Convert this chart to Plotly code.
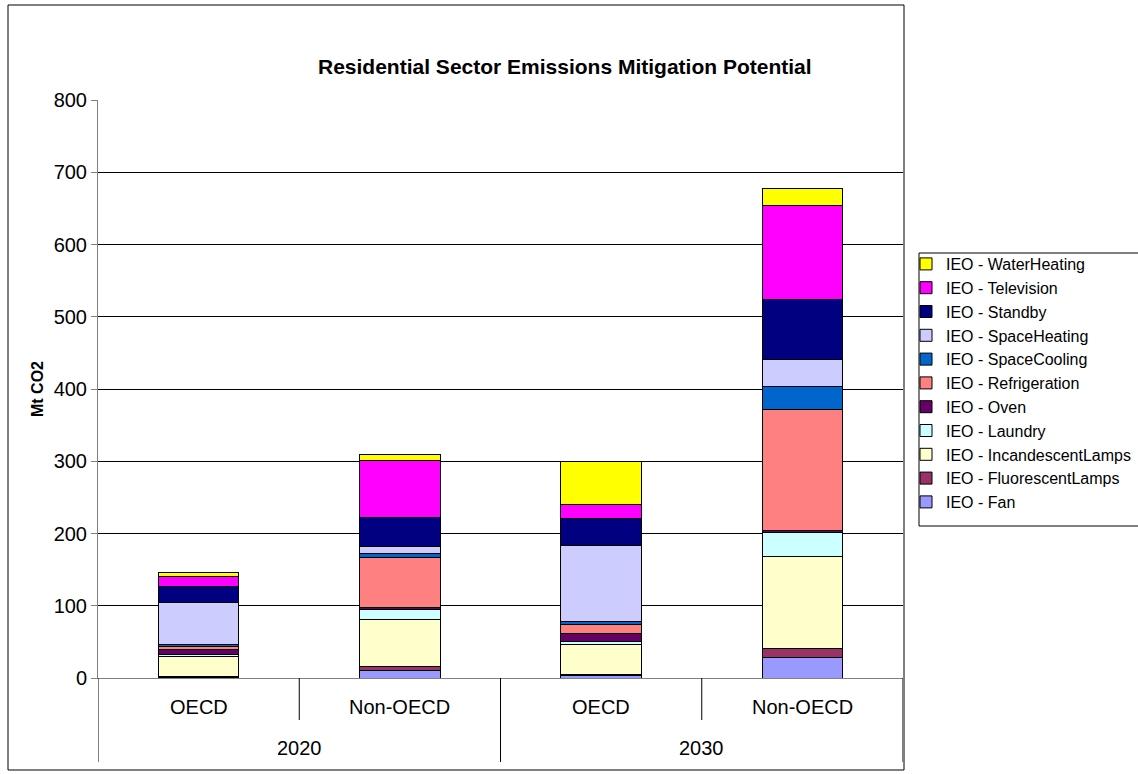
import plotly.graph_objects as go

# Data (Mt CO2)
years = ["2020", "2020", "2030", "2030"]
regions = ["OECD", "Non-OECD", "OECD", "Non-OECD"]
categories = ["2020 OECD", "2020 Non-OECD", "2030 OECD", "2030 Non-OECD"]

fan = [1, 11, 3, 29]
fluorescent = [1.5, 5, 2.5, 12.5]
incandescent = [27, 65, 41, 126]
laundry = [3, 14, 4.5, 33.5]
oven = [6.5, 2.5, 10.5, 3.5]
refrigeration = [5, 69.5, 12.5, 167.5]
space_cooling = [2.5, 5.5, 4.5, 31.5]
space_heating = [58, 9, 105.5, 38]
standby = [22, 41, 37, 83]
television = [14.5, 79, 18.5, 129.5]
water_heating = [5, 8, 60, 23]

series = [
    ("IEO - Fan", fan, "#9999FF"),
    ("IEO - FluorescentLamps", fluorescent, "#993366"),
    ("IEO - IncandescentLamps", incandescent, "#FFFFCC"),
    ("IEO - Laundry", laundry, "#CCFFFF"),
    ("IEO - Oven", oven, "#660066"),
    ("IEO - Refrigeration", refrigeration, "#FF8080"),
    ("IEO - SpaceCooling", space_cooling, "#0066CC"),
    ("IEO - SpaceHeating", space_heating, "#CCCCFF"),
    ("IEO - Standby", standby, "#000080"),
    ("IEO - Television", television, "#FF00FF"),
    ("IEO - WaterHeating", water_heating, "#FFFF00"),
]

FONT = "Arial, Liberation Sans, sans-serif"

fig = go.Figure()
for name, vals, col in series:
    fig.add_trace(go.Bar(
        x=categories, y=vals, name=name,
        marker=dict(color=col, line=dict(color="black", width=1)),
    ))

W, H = 1138, 774
L, R, T, B = 98, 235, 100, 96
pw, ph = W - L - R, H - T - B

def px_x(px):
    return (px - L) / pw

def px_y(py):
    return (H - B - py) / ph

annotations = []
shapes = []
# inner labels
for i, reg in enumerate(regions):
    annotations.append(dict(x=i, y=px_y(707), xref="x", yref="paper", text=reg,
                            showarrow=False, font=dict(size=20, color="black", family=FONT),
                            xanchor="center", yanchor="middle"))
# outer (year) labels
for j, yr in enumerate(["2020", "2030"]):
    annotations.append(dict(x=2 * j + 0.5, y=px_y(748), xref="x", yref="paper", text=yr,
                            showarrow=False, font=dict(size=20, color="black", family=FONT),
                            xanchor="center", yanchor="middle"))
# dividers
for xv, bottom in [(-0.5, 762), (0.5, 720), (1.5, 762), (2.5, 720), (3.5, 762)]:
    shapes.append(dict(type="line", xref="x", yref="paper", x0=xv, x1=xv,
                       y0=0, y1=px_y(bottom), line=dict(color="black", width=1)))
# outer chart border
shapes.append(dict(type="rect", xref="paper", yref="paper",
                   x0=px_x(8), x1=px_x(904), y0=px_y(770), y1=px_y(5),
                   line=dict(color="black", width=1), fillcolor="rgba(0,0,0,0)", layer="below"))
# legend frame
shapes.append(dict(type="rect", xref="paper", yref="paper",
                   x0=px_x(919), x1=px_x(1145), y0=px_y(526), y1=px_y(253),
                   line=dict(color="black", width=1), fillcolor="white", layer="below"))

# y-axis title
annotations.append(dict(x=px_x(37), y=0.5, xref="paper", yref="paper", text="<b>Mt CO2</b>",
                        showarrow=False, textangle=-90, font=dict(size=16, color="black", family=FONT),
                        xanchor="center", yanchor="middle"))
# title
annotations.append(dict(x=px_x(565), y=px_y(66), xref="paper", yref="paper",
                        text="<b>Residential Sector Emissions Mitigation Potential</b>",
                        showarrow=False, font=dict(size=21, color="black", family=FONT),
                        xanchor="center", yanchor="middle"))

fig.update_layout(
    width=W, height=H,
    margin=dict(l=L, r=R, t=T, b=B, pad=0, autoexpand=False),
    barmode="stack", bargap=0.6,
    paper_bgcolor="white", plot_bgcolor="white",
    font=dict(family=FONT, color="black"),
    xaxis=dict(range=[-0.5, 3.5], showticklabels=False, showgrid=False, ticks="",
               showline=True, linecolor="#808080", linewidth=1, zeroline=False),
    yaxis=dict(range=[0, 800], dtick=100, showgrid=True, gridcolor="black", gridwidth=1,
               ticks="outside", ticklen=6, tickcolor="#808080", showline=True,
               linecolor="#808080", linewidth=1, zeroline=False,
               tickfont=dict(size=20, color="black", family=FONT)),
    legend=dict(x=px_x(906), y=px_y(247), xanchor="left", yanchor="top",
                traceorder="reversed", borderwidth=0,
                font=dict(size=16, color="black", family=FONT), bgcolor="rgba(0,0,0,0)",
                itemwidth=30),
    annotations=annotations, shapes=shapes,
)

fig.write_html("out.html", config={"displayModeBar": False},
               post_script="document.body.style.margin='0';document.body.style.overflow='hidden';")
